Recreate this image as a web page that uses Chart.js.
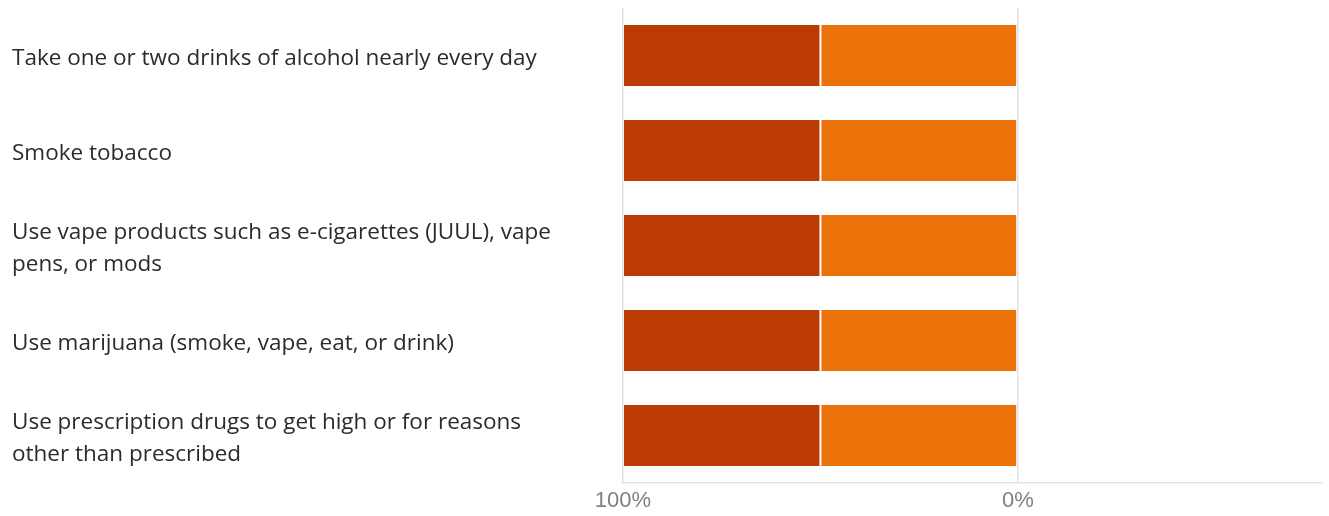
<!DOCTYPE html>
<html>
<head>
<meta charset="utf-8">
<script src="https://cdn.jsdelivr.net/npm/chart.js@4/dist/chart.umd.min.js"></script>
<style>
    html, body { margin: 0; padding: 0; background: #fff; }
    .chart { width: 1329px; height: 516px; }
</style>
</head>
<body>
<div class="chart">
    <canvas id="canva" width="1329" height="516"></canvas>
</div>
<script>
const categories = [
    'Take one or two drinks of alcohol nearly every day',
    'Smoke tobacco',
    ['Use vape products such as e-cigarettes (JUUL), vape', 'pens, or mods'],
    'Use marijuana (smoke, vape, eat, or drink)',
    ['Use prescription drugs to get high or for reasons', 'other than prescribed'],
];
const orangeValues = [50, 50, 50, 50, 50];
const darkValues = [50, 50, 50, 50, 50];
const tickValues = [100, 0];

const canvas = document.querySelector('#canva').getContext('2d');
const chart = new Chart(canvas, {
    type: 'bar',
    data: {
        labels: categories,
        datasets: [
            {
                label: 'orange',
                data: orangeValues,
                backgroundColor: '#EB7209',
                borderColor: 'rgba(255, 255, 255, 0.1)',
                borderWidth: 1,
                borderSkipped: false,
            },
            {
                label: 'dark',
                data: darkValues,
                backgroundColor: '#BC3A03',
                borderColor: 'rgba(255, 255, 255, 0.08)',
                borderWidth: 1,
                borderSkipped: false,
            },
        ],
    },
    options: {
        indexAxis: 'y',
        responsive: false,
        animation: false,
        layout: {
            padding: { top: 8, right: 7, bottom: 0, left: 12 },
        },
        datasets: {
            bar: {
                categoryPercentage: 1,
                barPercentage: 0.663,
            },
        },
        scales: {
            x: {
                stacked: true,
                reverse: true,
                min: -77,
                max: 100,
                afterBuildTicks: (scale) => {
                    scale.ticks = tickValues.map((v) => ({ value: v }));
                },
                afterFit: (scale) => {
                    scale.height = 33;
                    scale.paddingLeft = 0;
                    scale.paddingRight = 0;
                },
                ticks: {
                    callback: (v) => v + '%',
                    color: '#808080',
                    padding: 5,
                    font: { family: 'Liberation Sans, Arial', size: 22 },
                },
                grid: {
                    color: '#e2e2e2',
                    drawTicks: false,
                    lineWidth: 1.5,
                },
                border: { display: true, color: '#e2e2e2', width: 1.5 },
            },
            y: {
                stacked: true,
                afterFit: (scale) => {
                    scale.width = 611;
                    scale.paddingTop = 0;
                    scale.paddingBottom = 0;
                },
                ticks: {
                    crossAlign: 'far',
                    color: '#2b2b2b',
                    padding: 0,
                    labelOffset: 3,
                    font: { family: 'Open Sans', size: 22.5, lineHeight: 1.4 },
                },
                grid: { display: false },
                border: { display: false },
            },
        },
        plugins: {
            legend: { display: false },
            tooltip: { enabled: false },
        },
    },
});
</script>
</body>
</html>
